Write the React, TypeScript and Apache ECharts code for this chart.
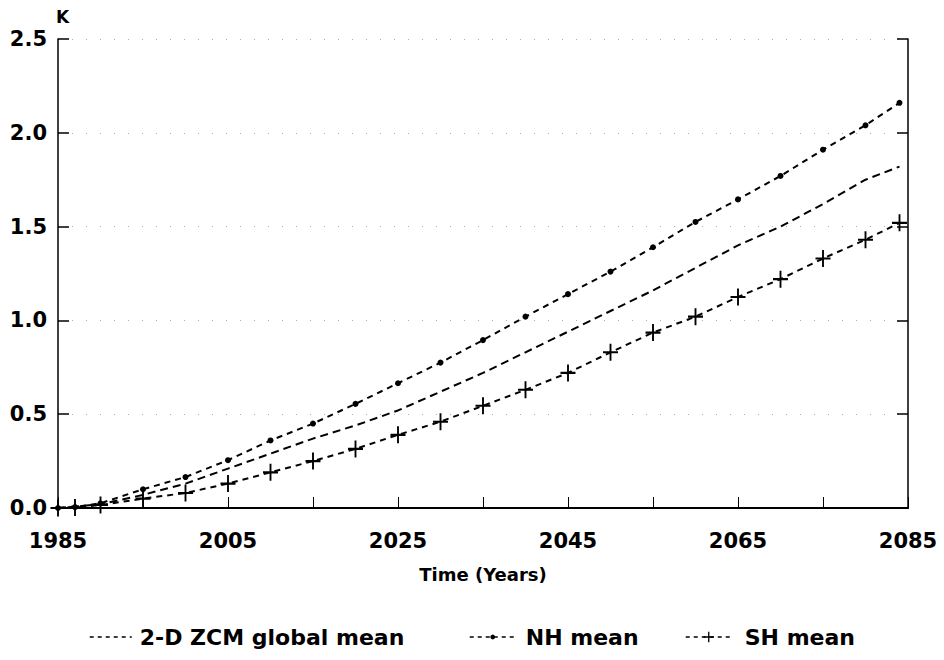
import React, { useEffect, useRef } from "react";
import * as echarts from "echarts";

const years = [1985, 1987, 1990, 1995, 2000, 2005, 2010, 2015, 2020, 2025, 2030, 2035, 2040, 2045, 2050, 2055, 2060, 2065, 2070, 2075, 2080, 2084];
const nhMean = [0, 0.005, 0.025, 0.1, 0.165, 0.255, 0.36, 0.45, 0.555, 0.665, 0.775, 0.895, 1.02, 1.14, 1.26, 1.39, 1.525, 1.645, 1.77, 1.91, 2.04, 2.16];
const shMean = [0, 0.003, 0.016, 0.05, 0.08, 0.13, 0.19, 0.25, 0.315, 0.39, 0.46, 0.545, 0.63, 0.72, 0.83, 0.935, 1.02, 1.125, 1.22, 1.33, 1.43, 1.52];
const globalYears = [1985, 1990, 1995, 2000, 2005, 2010, 2015, 2020, 2025, 2030, 2035, 2040, 2045, 2050, 2055, 2060, 2065, 2070, 2075, 2080, 2084];
const globalMean = [0, 0.02, 0.07, 0.13, 0.21, 0.29, 0.37, 0.44, 0.52, 0.62, 0.72, 0.83, 0.94, 1.05, 1.16, 1.28, 1.4, 1.5, 1.62, 1.75, 1.82];
const seriesNames = ["2-D ZCM global mean", "NH mean", "SH mean"];
const xTitle = "Time (Years)";
const yUnit = "K";

const FONT = "DejaVu Sans";
const PLUS = "path://M7,0H9V7H16V9H9V16H7V9H0V7H7Z";

export default function App() {
  const ref = useRef<HTMLDivElement>(null);
  useEffect(() => {
    document.body.style.margin = "0";
    const chart = echarts.init(ref.current!, null, { renderer: "svg" });
    const line = { color: "#000", width: 2, type: [6, 5] as number[] };
    const legendText = { color: "#000", fontFamily: FONT, fontWeight: "bold" as const, fontSize: 22 };
    chart.setOption({
      animation: false,
      backgroundColor: "#fff",
      grid: { left: 58, right: 36, top: 39, bottom: 152 },
      xAxis: [
        {
          type: "value",
          min: 1985,
          max: 2085,
          interval: 10,
          position: "bottom",
          axisLine: { show: true, lineStyle: { color: "#000", width: 2 } },
          axisTick: { show: true, inside: true, length: 11, lineStyle: { color: "#000", width: 1 } },
          axisLabel: {
            margin: 22,
            color: "#000",
            fontFamily: FONT,
            fontWeight: "bold",
            fontSize: 21,
            formatter: (v: number) => ((v - 1985) % 20 === 0 ? String(v) : ""),
          },
          splitLine: { show: false },
          name: xTitle,
          nameLocation: "middle",
          nameGap: 57,
          nameTextStyle: { color: "#000", fontFamily: FONT, fontWeight: "bold", fontSize: 18 },
        },
        {
          type: "value",
          min: 1985,
          max: 2085,
          position: "top",
          axisLine: { show: true, lineStyle: { color: "#000", width: 1.5 } },
          axisTick: { show: false },
          axisLabel: { show: false },
          splitLine: { show: false },
        },
      ],
      yAxis: [
        {
          type: "value",
          min: 0,
          max: 2.5,
          interval: 0.5,
          position: "left",
          axisLine: { show: true, lineStyle: { color: "#000", width: 1.5 } },
          axisTick: { show: true, inside: true, length: 11, lineStyle: { color: "#000", width: 1.5 } },
          axisLabel: {
            margin: 11,
            color: "#000",
            fontFamily: FONT,
            fontWeight: "bold",
            fontSize: 21,
            formatter: (v: number) => v.toFixed(1),
          },
          splitLine: { show: true, lineStyle: { color: "#aaa", width: 1, type: [1, 13] } },
        },
        {
          type: "value",
          min: 0,
          max: 2.5,
          interval: 0.5,
          position: "right",
          axisLine: { show: true, lineStyle: { color: "#000", width: 1.5 } },
          axisTick: { show: true, inside: true, length: 11, lineStyle: { color: "#000", width: 1.5 } },
          axisLabel: { show: false },
          splitLine: { show: false },
        },
      ],
      legend: [
        {
          data: [seriesNames[0]],
          left: 84,
          top: 621,
          itemWidth: 42,
          itemHeight: 12,
          itemStyle: { opacity: 0 },
          lineStyle: { width: 1.5, type: [4, 4] },
          textStyle: { ...legendText, padding: [0, 0, 0, 3] },
        },
        {
          data: [seriesNames[1]],
          left: 464,
          top: 621,
          itemWidth: 46,
          itemHeight: 6,
          lineStyle: { width: 1.5, type: [4, 4] },
          textStyle: { ...legendText, padding: [0, 0, 0, 5] },
        },
        {
          data: [seriesNames[2]],
          left: 680,
          top: 621,
          itemWidth: 46,
          itemHeight: 13,
          lineStyle: { width: 1.5, type: [4, 4] },
          textStyle: { ...legendText, padding: [0, 0, 0, 8] },
        },
      ],
      graphic: [
        {
          type: "text",
          left: 56,
          top: 8,
          style: { text: yUnit, fill: "#000", font: `bold 17px "${FONT}"` },
        },
      ],
      series: [
        {
          name: seriesNames[0],
          type: "line",
          data: globalYears.map((y, i) => [y, globalMean[i]]),
          symbol: "none",
          lineStyle: { ...line, type: [8, 5] },
          itemStyle: { color: "#000" },
        },
        {
          name: seriesNames[1],
          type: "line",
          data: years.map((y, i) => [y, nhMean[i]]),
          symbol: "circle",
          symbolSize: 6,
          lineStyle: line,
          itemStyle: { color: "#000" },
        },
        {
          name: seriesNames[2],
          type: "line",
          data: years.map((y, i) => [y, shMean[i]]),
          symbol: PLUS,
          symbolSize: [15, 17],
          lineStyle: line,
          itemStyle: { color: "#000" },
        },
      ],
    });
    return () => chart.dispose();
  }, []);
  return <div ref={ref} style={{ width: 944, height: 660 }} />;
}
